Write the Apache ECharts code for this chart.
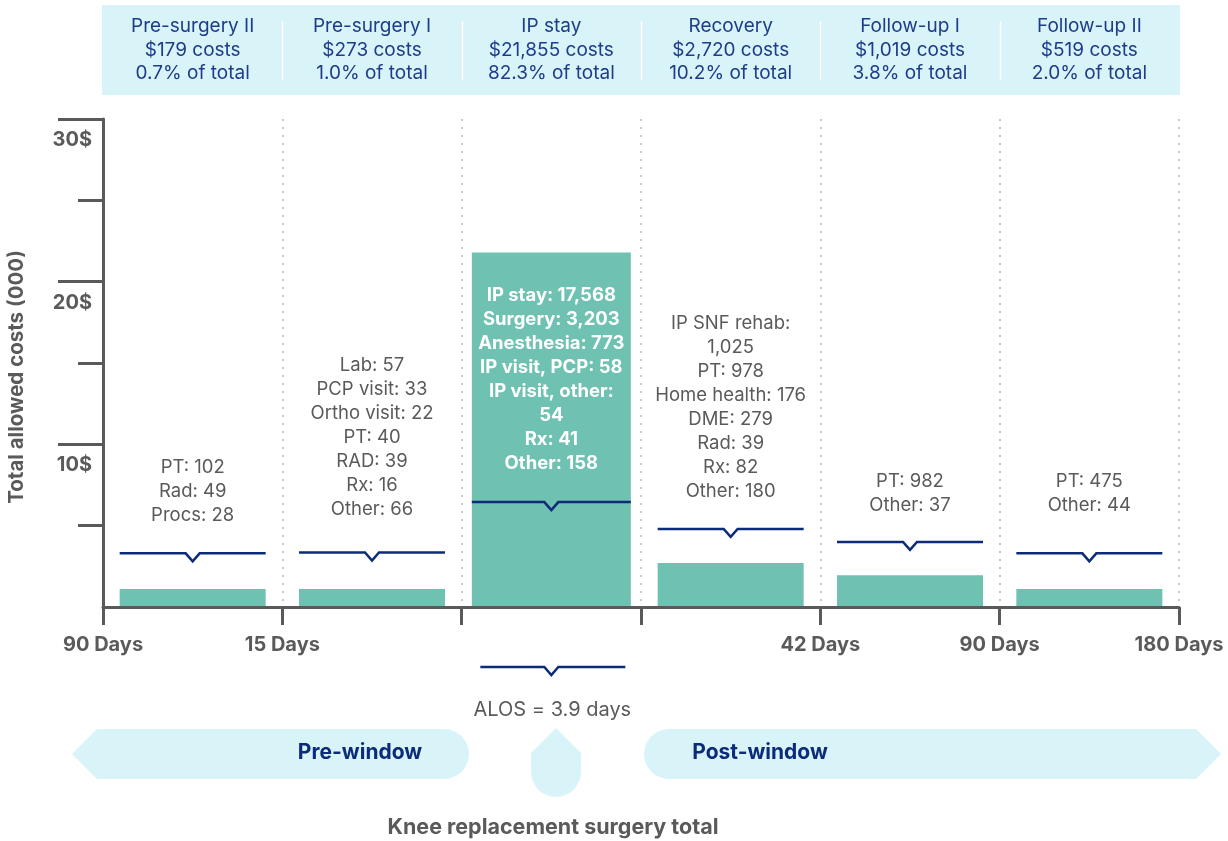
<!DOCTYPE html>
<html><head><meta charset="utf-8">
<script src="https://cdn.jsdelivr.net/npm/echarts@6/dist/echarts.min.js"></script>
<style>html,body{margin:0;padding:0;background:#fff}#c{width:1228px;height:841px}</style>
</head><body><div id="c"></div>
<script>
// ---------- data ----------
const categories = ['Pre-surgery II', 'Pre-surgery I', 'IP stay', 'Recovery', 'Follow-up I', 'Follow-up II'];
const phaseCosts = ['$179', '$273', '$21,855', '$2,720', '$1,019', '$519'];
const phaseShares = ['0.7%', '1.0%', '82.3%', '10.2%', '3.8%', '2.0%'];
const barValues = [1.1, 1.1, 21.8, 2.7, 1.95, 1.1];          // total allowed costs (000)
const bracketLevels = [3.3, 3.35, 6.45, 4.8, 4.0, 3.3];       // height of brace marks (000)
const breakdowns = [
  ['PT: 102', 'Rad: 49', 'Procs: 28'],
  ['Lab: 57', 'PCP visit: 33', 'Ortho visit: 22', 'PT: 40', 'RAD: 39', 'Rx: 16', 'Other: 66'],
  ['IP stay: 17,568', 'Surgery: 3,203', 'Anesthesia: 773', 'IP visit, PCP: 58', 'IP visit, other:', '54', 'Rx: 41', 'Other: 158'],
  ['IP SNF rehab:', '1,025', 'PT: 978', 'Home health: 176', 'DME: 279', 'Rad: 39', 'Rx: 82', 'Other: 180'],
  ['PT: 982', 'Other: 37'],
  ['PT: 475', 'Other: 44']
];
const boundaryLabels = ['90 Days', '15 Days', '', '', '42 Days', '90 Days', '180 Days'];
const yTickValues = [10, 20, 30];
const yAxisTitle = 'Total allowed costs (000)';
const alosText = 'ALOS = 3.9 days';
const windowLabels = ['Pre-window', 'Post-window'];
const footerText = 'Knee replacement surgery total';

// ---------- style ----------
const FONT = 'Inter, "Noto Sans", sans-serif';
const GRAY = '#5a5a5a';
const NAVY = '#0c2b78';
const HEAD = '#1e3c8a';
const TEAL = '#6fc1b1';
const CYAN = '#d9f4f8';
const BIG = 2; // index of the wide bar
const TEXT_GAP = [40, 45, 41, 39, 38, 50]; // px between brace and last text line

const chart = echarts.init(document.getElementById('c'), null, { renderer: 'canvas' });

const axisStyle = { color: GRAY, width: 3 };

const option = {
  animation: false,
  grid: { left: 103, right: 49, top: 119, bottom: 234, containLabel: false, outerBoundsMode: 'none' },
  xAxis: [
    { type: 'category', data: categories, boundaryGap: true,
      axisLine: { show: true, lineStyle: axisStyle }, axisTick: { show: false }, axisLabel: { show: false }, z: 5 },
    { type: 'value', min: 0, max: 6, interval: 1, position: 'bottom',
      axisLine: { show: false },
      axisTick: { show: true, length: 18, lineStyle: axisStyle },
      axisLabel: { formatter: v => boundaryLabels[v] || '', color: GRAY, fontWeight: 'bold', fontSize: 20, fontFamily: FONT, margin: 28 },
      splitLine: { show: true, lineStyle: { type: [2, 6], color: '#c9c9c9', width: 2 } } },
    { type: 'category', data: categories, boundaryGap: true, show: false }
  ],
  yAxis: {
    type: 'value', min: 0, max: 30, interval: 10,
    axisLine: { show: true, lineStyle: axisStyle },
    axisTick: { show: true, length: 45, customValues: yTickValues, lineStyle: axisStyle },
    minorTick: { show: true, splitNumber: 2, length: 25, lineStyle: axisStyle },
    axisLabel: { customValues: yTickValues, formatter: v => v + '$', color: GRAY, fontWeight: 'bold', fontSize: 20, fontFamily: FONT,
      verticalAlign: 'top', lineHeight: 26, padding: [8, 0, 0, 0], margin: 11 },
    splitLine: { show: false }, minorSplitLine: { show: false }
  },
  series: [
    { type: 'bar', xAxisIndex: 0, barWidth: 146, itemStyle: { color: TEAL },
      data: barValues.map((v, i) => i === BIG ? '-' : v), z: 2 },
    { type: 'bar', xAxisIndex: 2, barWidth: 159, itemStyle: { color: TEAL },
      data: barValues.map((v, i) => i === BIG ? v : '-'), z: 2 },
    { type: 'custom', xAxisIndex: 0, z: 10,
      data: bracketLevels.map((v, i) => [i, v]),
      renderItem: function (params, api) {
        const i = params.dataIndex;
        const c = api.coord([api.value(0), api.value(1)]);
        const half = (i === BIG ? 159 : 146) / 2;
        const x = c[0], y = c[1];
        return { type: 'group', children: [
          { type: 'polyline', shape: { points: [[x - half, y], [x - 7, y], [x, y + 8], [x + 7, y], [x + half, y]] },
            style: { stroke: NAVY, lineWidth: 2.5, fill: null } },
          { type: 'text', x: x, y: y - TEXT_GAP[i] + 14,
            style: { text: breakdowns[i].join('\n'), fill: i === BIG ? '#ffffff' : GRAY,
              fontSize: 18.5, fontWeight: i === BIG ? 'bold' : 'normal', fontFamily: FONT,
              align: 'center', verticalAlign: 'bottom', lineHeight: 24 } }
        ] };
      } }
  ]
};
chart.setOption(option);

// ---------- decorations positioned from the axes ----------
const px = v => chart.convertToPixel({ xAxisIndex: 1 }, v);
const x0 = px(0), x6 = px(6);
const g = [];
g.push({ type: 'rect', shape: { x: x0 - 1, y: 5, width: x6 - x0 + 2, height: 90 }, style: { fill: CYAN }, z: 0 });
for (let b = 1; b < 6; b++) {
  const xb = Math.round(px(b)) + 0.5;
  g.push({ type: 'line', shape: { x1: xb, y1: 21, x2: xb, y2: 80 }, style: { stroke: '#ffffff', lineWidth: 1.5 }, z: 1 });
}
categories.forEach((name, i) => {
  const xc = px(i + 0.5);
  g.push({ type: 'text', x: xc, y: 50, z: 2,
    style: { text: name + '\n' + phaseCosts[i] + ' costs\n' + phaseShares[i] + ' of total',
      fill: HEAD, fontSize: 19, fontFamily: FONT, align: 'center', verticalAlign: 'middle', lineHeight: 23.5 } });
});
// y-axis title
g.push({ type: 'text', x: 17, y: 377, rotation: Math.PI / 2,
  style: { text: yAxisTitle, fill: GRAY, fontSize: 20.5, fontWeight: 'bold', fontFamily: FONT, align: 'center', verticalAlign: 'middle' } });
// ALOS brace under the IP stay column
const xc2 = px(BIG + 0.5);
g.push({ type: 'polyline', shape: { points: [[xc2 - 71, 667], [xc2 - 7, 667], [xc2, 675], [xc2 + 7, 667], [xc2 + 74, 667]] },
  style: { stroke: NAVY, lineWidth: 2.5, fill: null } });
g.push({ type: 'text', x: xc2 + 1, y: 710, style: { text: alosText, fill: GRAY, fontSize: 20, fontFamily: FONT, align: 'center', verticalAlign: 'middle' } });
// window arrows and surgery drop
g.push({ type: 'polygon', shape: { points: [[72, 754], [97, 729], [444, 729], [444, 779], [97, 779]] }, style: { fill: CYAN } });
g.push({ type: 'circle', shape: { cx: 444, cy: 754, r: 25 }, style: { fill: CYAN } });
g.push({ type: 'polygon', shape: { points: [[669, 729], [1196, 729], [1221, 754], [1196, 779], [669, 779]] }, style: { fill: CYAN } });
g.push({ type: 'circle', shape: { cx: 669, cy: 754, r: 25 }, style: { fill: CYAN } });
g.push({ type: 'polygon', shape: { points: [[556, 728], [581, 753], [581, 772], [531, 772], [531, 753]] }, style: { fill: CYAN } });
g.push({ type: 'circle', shape: { cx: 556, cy: 772, r: 25 }, style: { fill: CYAN } });
g.push({ type: 'text', x: 360, y: 753, z: 3, style: { text: windowLabels[0], fill: NAVY, fontSize: 21, fontWeight: 'bold', fontFamily: FONT, align: 'center', verticalAlign: 'middle' } });
g.push({ type: 'text', x: 760, y: 753, z: 3, style: { text: windowLabels[1], fill: NAVY, fontSize: 21, fontWeight: 'bold', fontFamily: FONT, align: 'center', verticalAlign: 'middle' } });
g.push({ type: 'text', x: 553, y: 828, style: { text: footerText, fill: GRAY, fontSize: 21.5, fontWeight: 'bold', fontFamily: FONT, align: 'center', verticalAlign: 'middle' } });
chart.setOption({ graphic: g });
</script>
</body></html>
